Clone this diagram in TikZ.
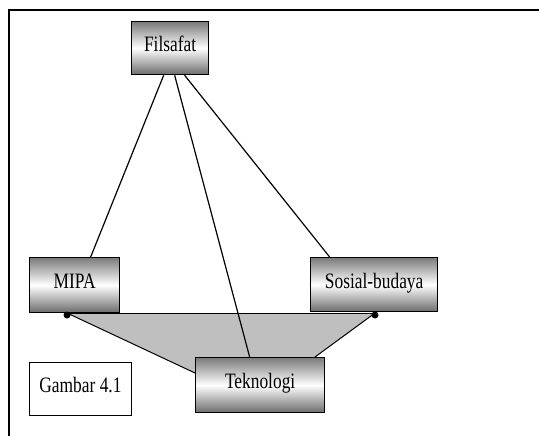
\documentclass[tikz,border=0pt]{standalone}
\usepackage{fontspec}
\setmainfont[FakeStretch=0.79]{Liberation Serif}
\usetikzlibrary{calc,backgrounds}
\begin{document}
\begin{tikzpicture}[x=1pt,y=-1pt,
  box/.style={draw=black, line width=1.3pt, top color=black!52, bottom color=black!58, middle color=white,
    inner sep=0pt, anchor=north west, text height=15pt, text depth=8pt, font=\fontsize{22}{26}\selectfont},
  capbox/.style={draw=black, line width=0.9pt, fill=white, inner sep=0pt, anchor=north west,
    text height=15pt, text depth=8pt, font=\fontsize{22}{26}\selectfont},
  link/.style={draw=black, line width=1.2pt},
  edge/.style={draw=black, line width=1pt},
  dot/.style={fill=black}]
\useasboundingbox (0,0) rectangle (539,436);
% frame
\coordinate (f1) at (9,436);
\coordinate (f2) at (9,10);
\coordinate (f3) at (539,10);
\draw[line width=1.6pt] (f1) -- (f2) -- (f3);
% boxes
\node[box, minimum width=77pt, minimum height=53pt] (fil) at (131,21) {Filsafat};
\node[box, minimum width=90pt, minimum height=55pt] (mipa) at (29,257) {MIPA};
\node[box, minimum width=127pt, minimum height=54pt] (sos) at (310,257) {Sosial-budaya};
\node[box, minimum width=129pt, minimum height=55pt] (tek) at (195,357) {Teknologi};
\node[capbox, minimum width=102pt, minimum height=53pt] (gam) at (29,362) {Gambar 4.1};
% grey band
\coordinate (dl) at (67,313);
\coordinate (dr) at (375,313);
\coordinate (tl) at ($(tek.north west)+(0,16)$);
\coordinate (tr) at ($(tek.north west)+(120,0)$);
\begin{scope}[on background layer]
  \fill[black!25] (dl) -- (dr) -- (tr) -- (tl) -- cycle;
  \draw[edge] (dl) -- (dr);
  \draw[edge] (dr) -- (tr);
  \draw[edge] (dl) -- (tl);
  % links from Filsafat
  \draw[link] ($(fil.south)+(-6.5,0)$) -- ($(mipa.north)+(16,0)$);
  \draw[link] ($(fil.south)+(4.5,0)$) -- ($(tek.north)+(-10.5,0)$);
  \draw[link] ($(fil.south)+(14.5,0)$) -- ($(sos.north)+(-44.5,0)$);
\end{scope}
\fill[dot] ($(dl)+(0,2)$) circle (3.5);
\fill[dot] ($(dr)+(0,2)$) circle (3.5);
\end{tikzpicture}
\end{document}
